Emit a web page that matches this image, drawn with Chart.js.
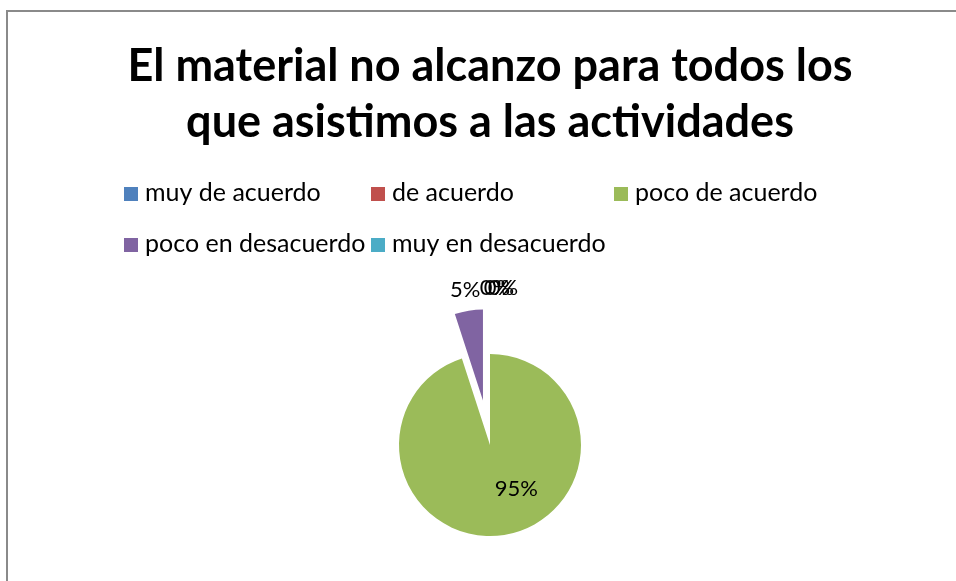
<!DOCTYPE html>
<html>
<head>
<meta charset="utf-8">
<script src="https://cdn.jsdelivr.net/npm/chart.js@4.4.1/dist/chart.umd.min.js"></script>
<style>
  html, body { margin: 0; padding: 0; background: #fff; overflow: hidden; }
  #wrap { position: relative; width: 956px; height: 581px; overflow: hidden; }
  #wrap canvas { position: absolute; left: 0; top: 0; }
  #frame {
    position: absolute; left: 6px; top: 10px; width: 980px; height: 600px;
    border-top: 2px solid #8a8a8a; border-left: 2px solid #8a8a8a;
    pointer-events: none;
  }
</style>
</head>
<body>
<div id="wrap">
  <canvas id="chart" width="956" height="581"></canvas>
  <div id="frame"></div>
</div>
<script>
// data
const categories = ['muy de acuerdo', 'de acuerdo', 'poco de acuerdo', 'poco en desacuerdo', 'muy en desacuerdo'];
const percentages = [0, 0, 95, 5, 0];
const sliceColors = ['#4F81BD', '#C0504D', '#9BBB59', '#8064A2', '#4BACC6'];
const titleLines = ['El material no alcanzo para todos los', 'que asistimos a las actividades'];
const explodedIndex = 3;

const EXPLODE_PX = 45;
const FONT = 'Lato, "Open Sans", sans-serif';

// pull one slice out of the pie (pure translation along its mid angle)
const explodePlugin = {
  id: 'explode',
  beforeDatasetsDraw(chart) {
    chart.getDatasetMeta(0).data.forEach((arc, i) => {
      if (i !== explodedIndex || arc._exploded) return;
      const draw = arc.draw;
      arc.draw = function (ctx, area) {
        const mid = (this.startAngle + this.endAngle) / 2;
        ctx.save();
        ctx.translate(Math.cos(mid) * EXPLODE_PX, Math.sin(mid) * EXPLODE_PX);
        draw.call(this, ctx, area);
        ctx.restore();
      };
      arc._exploded = true;
    });
  }
};

// percentage labels, placed like excel does
const labelPlugin = {
  id: 'sliceLabels',
  afterDatasetsDraw(chart) {
    const ctx = chart.ctx;
    const meta = chart.getDatasetMeta(0);
    ctx.save();
    ctx.font = '22px ' + FONT;
    ctx.fillStyle = '#000';
    ctx.textAlign = 'center';
    ctx.textBaseline = 'middle';
    let zeroCount = 0;
    meta.data.forEach((arc, i) => {
      const p = arc.getProps(['x', 'y', 'startAngle', 'endAngle', 'outerRadius'], true);
      const v = percentages[i];
      const mid = (p.startAngle + p.endAngle) / 2;
      const r = p.outerRadius;
      let cx = p.x, cy = p.y;
      if (i === explodedIndex) {
        cx += Math.cos(mid) * EXPLODE_PX;
        cy += Math.sin(mid) * EXPLODE_PX;
      }
      let lx, ly;
      if (v >= 50) {
        lx = cx + r * 0.29;
        ly = cy + r * 0.48;
      } else if (v === 0) {
        const d = r * 1.23 + EXPLODE_PX;
        lx = cx + Math.cos(mid) * d + 5 + 4 * zeroCount;
        ly = cy + Math.sin(mid) * d;
        zeroCount++;
      } else {
        lx = cx + Math.cos(mid) * r * 1.25;
        ly = cy + Math.sin(mid) * r * 1.23;
      }
      ctx.fillText(v + '%', lx, ly);
    });
    ctx.restore();
  }
};

// legend in fixed columns like the office chart
const gridLegend = {
  id: 'gridLegend',
  afterDraw(chart) {
    const ctx = chart.ctx;
    const colors = chart.data.datasets[0].backgroundColor;
    const colX = [124, 371, 614];
    const rowY = [193, 244];
    ctx.save();
    ctx.font = '25px ' + FONT;
    ctx.textBaseline = 'middle';
    ctx.textAlign = 'left';
    chart.data.labels.forEach((lab, i) => {
      const x = colX[i % 3];
      const y = rowY[Math.floor(i / 3)];
      ctx.fillStyle = colors[i];
      ctx.fillRect(x, y - 6, 14, 14);
      ctx.fillStyle = '#000';
      ctx.fillText(lab, x + 21, y);
    });
    ctx.restore();
  }
};

new Chart(document.getElementById('chart'), {
  type: 'pie',
  data: {
    labels: categories,
    datasets: [{
      data: percentages,
      backgroundColor: sliceColors,
      borderWidth: 0,
      radius: 91,
      clip: false
    }]
  },
  options: {
    responsive: false,
    animation: false,
    layout: { padding: { left: 24, right: 0, top: 0, bottom: 0 } },
    plugins: {
      legend: { display: false },
      tooltip: { enabled: false },
      title: {
        display: true,
        text: titleLines,
        color: '#000',
        font: { family: FONT, size: 45, weight: 'bold', lineHeight: '56px' },
        padding: { top: 38, bottom: 159 }
      }
    }
  },
  plugins: [explodePlugin, labelPlugin, gridLegend]
});
</script>
</body>
</html>
